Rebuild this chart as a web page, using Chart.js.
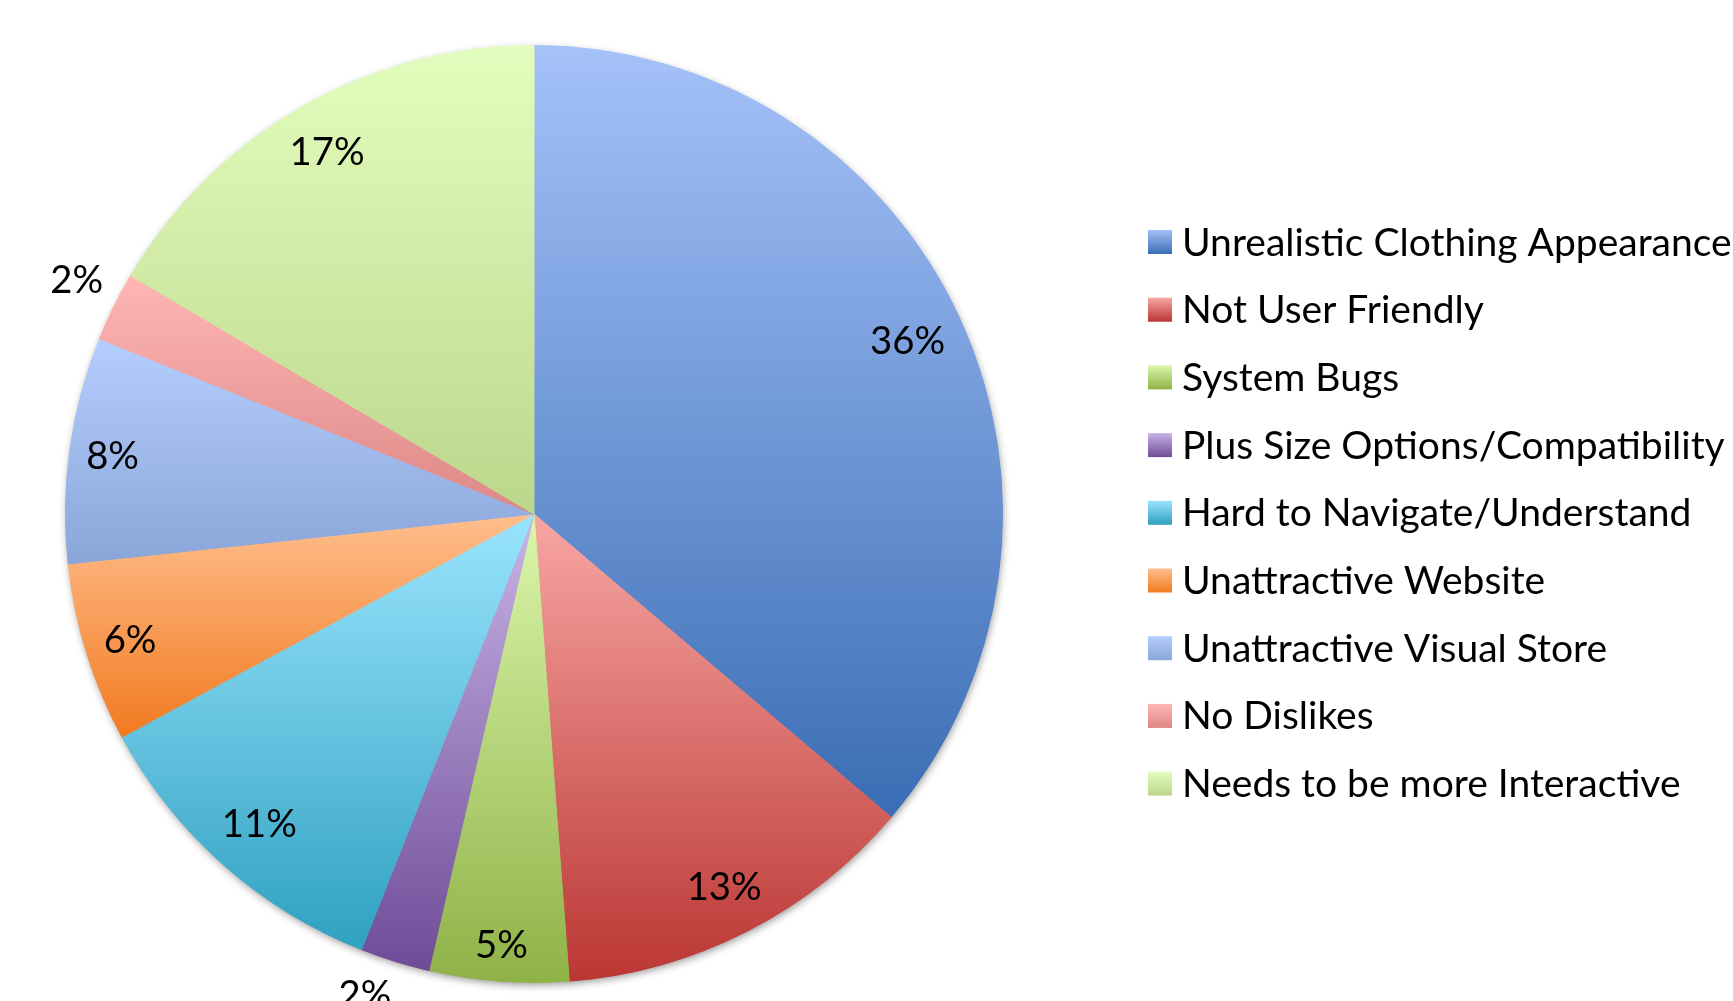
<!DOCTYPE html>
<html><head><meta charset="utf-8">
<script src="https://cdn.jsdelivr.net/npm/chart.js@4.4.1/dist/chart.umd.min.js"></script>
<style>html,body{margin:0;padding:0;background:#fff;overflow:hidden}canvas{display:block}</style>
</head><body>
<canvas id="c" width="1733" height="1001"></canvas>
<script>
const categories = [
  'Unrealistic Clothing Appearance',
  'Not User Friendly',
  'System Bugs',
  'Plus Size Options/Compatibility',
  'Hard to Navigate/Understand',
  'Unattractive Website',
  'Unattractive Visual Store',
  'No Dislikes',
  'Needs to be more Interactive'
];
const shares = [36.2, 12.6, 4.8, 2.4, 11.1, 6.2, 7.8, 2.4, 16.5];
const topColors = ['#a5c2f9','#f8a6a3','#dbf6ab','#c8b4e6','#9ae4fd','#ffbe8e','#b4cefe','#ffb6b5','#e3fdbe'];
const bottomColors = ['#3a6db4','#ba3633','#8fb247','#6e4b97','#2fa1c1','#f17a1f','#8aa5d8','#dc8886','#bcd78b'];
const FONT = 'Lato, "Open Sans", sans-serif';

function fitSize(ctx, text, target){
  ctx.save(); ctx.font = '100px ' + FONT;
  const w = ctx.measureText(text).width; ctx.restore();
  return 100 * target / w;
}

const gradCache = {};
function sliceGradient(context){
  const chart = context.chart;
  const a = chart.chartArea;
  const i = context.dataIndex;
  if (!a || i === undefined) return topColors[i || 0];
  const cx = (a.left + a.right) / 2, cy = (a.top + a.bottom) / 2;
  const r = Math.min(a.right - a.left, a.bottom - a.top) / 2;
  const key = i + '_' + cx + '_' + cy + '_' + r;
  if (gradCache[key]) return gradCache[key];
  const total = shares.reduce((s, v) => s + v, 0);
  let before = 0; for (let k = 0; k < i; k++) before += shares[k];
  const s = -Math.PI / 2 + 2 * Math.PI * before / total;
  const e = s + 2 * Math.PI * shares[i] / total;
  const ys = [cy, cy + r * Math.sin(s), cy + r * Math.sin(e)];
  for (let k = -1; k <= 4; k++) {
    const ang = k * Math.PI / 2;
    if (ang >= s && ang <= e) ys.push(cy + r * Math.sin(ang));
  }
  const y0 = Math.min(...ys), y1 = Math.max(...ys);
  const g = chart.ctx.createLinearGradient(0, y0, 0, y1);
  g.addColorStop(0, topColors[i]);
  g.addColorStop(1, bottomColors[i]);
  gradCache[key] = g;
  return g;
}

const shadowPlugin = {
  id: 'pieShadow',
  beforeDatasetsDraw(chart){
    const arc = chart.getDatasetMeta(0).data[0];
    if (!arc) return;
    const ctx = chart.ctx;
    ctx.save();
    ctx.shadowColor = 'rgba(0,0,0,0.45)';
    ctx.shadowBlur = 9;
    ctx.shadowOffsetX = 1;
    ctx.shadowOffsetY = 3;
    ctx.beginPath();
    ctx.arc(arc.x, arc.y, arc.outerRadius - 1, 0, Math.PI * 2);
    ctx.fillStyle = '#ffffff';
    ctx.fill();
    ctx.restore();
  }
};

const labelPlugin = {
  id: 'sliceLabels',
  afterDatasetsDraw(chart){
    const ctx = chart.ctx;
    const size = fitSize(ctx, '36%', 75);
    const meta = chart.getDatasetMeta(0);
    const halfH = 21;
    ctx.save();
    ctx.font = size + 'px ' + FONT;
    ctx.fillStyle = '#000';
    ctx.textAlign = 'center';
    ctx.textBaseline = 'middle';
    meta.data.forEach((arc, i) => {
      const v = shares[i];
      const text = Math.round(v) + '%';
      const mid = (arc.startAngle + arc.endAngle) / 2;
      const ux = Math.cos(mid), uy = Math.sin(mid);
      const w = ctx.measureText(text).width;
      const R = arc.outerRadius;
      let x, y;
      if (v >= 3) {
        const support = Math.abs(ux) * w / 2 + Math.abs(uy) * halfH;
        const d = R - 14 - support;
        x = arc.x + ux * d; y = arc.y + uy * d;
      } else {
        const gap = 12;
        x = arc.x + ux * (R + gap) + Math.sign(ux) * w / 2;
        y = arc.y + uy * (R + gap) + Math.sign(uy) * (halfH + 1);
      }
      ctx.fillText(text, x, y + 1);
    });
    ctx.restore();
  }
};

const legendPlugin = {
  id: 'sideLegend',
  afterDraw(chart){
    const ctx = chart.ctx;
    const size = fitSize(ctx, 'Not User Friendly', 302);
    const boxX = 1148, box = 24, textX = 1182, y0 = 242, step = 67.7;
    ctx.save();
    ctx.font = size + 'px ' + FONT;
    ctx.textAlign = 'left';
    ctx.textBaseline = 'middle';
    chart.data.labels.forEach((lab, i) => {
      const yc = y0 + step * i;
      const g = ctx.createLinearGradient(0, yc - box / 2, 0, yc + box / 2);
      g.addColorStop(0, topColors[i]);
      g.addColorStop(1, bottomColors[i]);
      ctx.fillStyle = g;
      ctx.fillRect(boxX, yc - box / 2, box, box);
      ctx.fillStyle = '#000';
      ctx.fillText(lab, textX, yc + 1);
    });
    ctx.restore();
  }
};

new Chart(document.getElementById('c'), {
  type: 'pie',
  data: {
    labels: categories,
    datasets: [{
      data: shares,
      backgroundColor: sliceGradient,
      borderColor: sliceGradient,
      borderWidth: 1
    }]
  },
  options: {
    responsive: false,
    devicePixelRatio: 1,
    animation: false,
    layout: { padding: { left: 65, right: 730, top: 45, bottom: 18 } },
    plugins: { legend: { display: false }, tooltip: { enabled: false } }
  },
  plugins: [shadowPlugin, labelPlugin, legendPlugin]
});
</script>
</body></html>
